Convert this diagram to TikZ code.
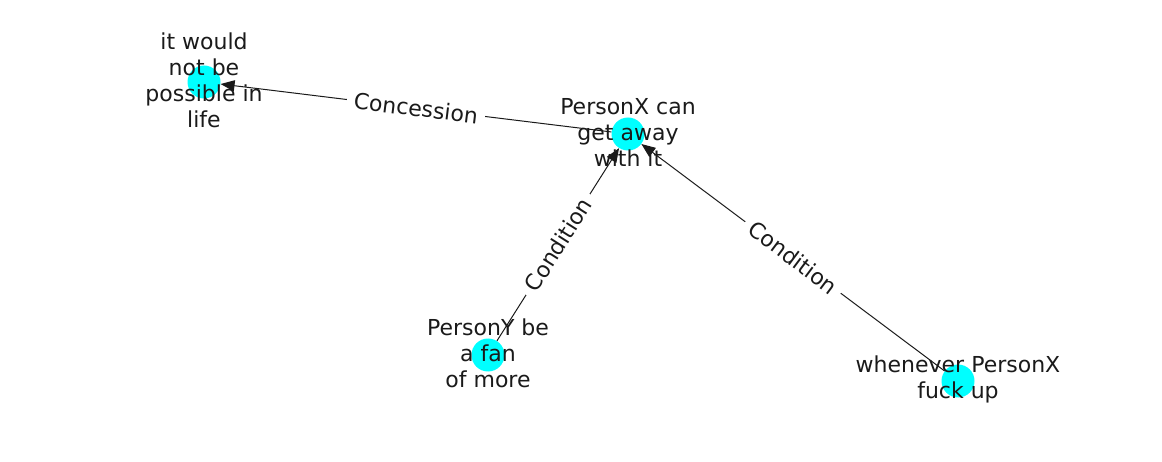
\documentclass[tikz,border=0pt]{standalone}
\usepackage{fontspec}
\setmainfont{DejaVu Sans}
\usetikzlibrary{arrows.meta}
\definecolor{nodecyan}{RGB}{0,255,255}
\definecolor{ink}{RGB}{26,26,26}
\tikzset{
  dot/.style={circle,fill=nodecyan,minimum size=33pt,inner sep=0pt},
  lbl/.style={align=center,text=ink,font=\fontsize{22}{26}\selectfont,inner sep=0pt,yshift=2pt},
  conn/.style={draw=ink,line width=1pt,-{Triangle[length=14pt,width=11pt]}},
  elbl/.style={sloped,fill=white,inner xsep=7pt,inner ysep=3pt,text=ink,font=\fontsize{22}{26}\selectfont}
}
\begin{document}
\begin{tikzpicture}[x=1pt,y=-1pt]
\useasboundingbox (0,0) rectangle (1162,462);
\node[dot] (a) at (204,82) {};
\node[dot] (b) at (628,134) {};
\node[dot] (c) at (488,355) {};
\node[dot] (d) at (958,381) {};
\draw[conn] (b) -- (a);
\draw[conn] (c) -- (b);
\draw[conn] (d) -- (b);
\node[lbl] (la) at (204,82) {it would\\not be\\possible in\\life};
\node[lbl] (lb) at (628,134) {PersonX can\\get away\\with it};
\node[lbl] (lc) at (488,355) {PersonY be\\a fan\\of more};
\node[lbl] (ld) at (958,381) {whenever PersonX\\fuck up};
\path (b) -- node[elbl] (e1) {Concession} (a);
\path (c) -- node[elbl] (e2) {Condition} (b);
\path (d) -- node[elbl] (e3) {Condition} (b);
\end{tikzpicture}
\end{document}
